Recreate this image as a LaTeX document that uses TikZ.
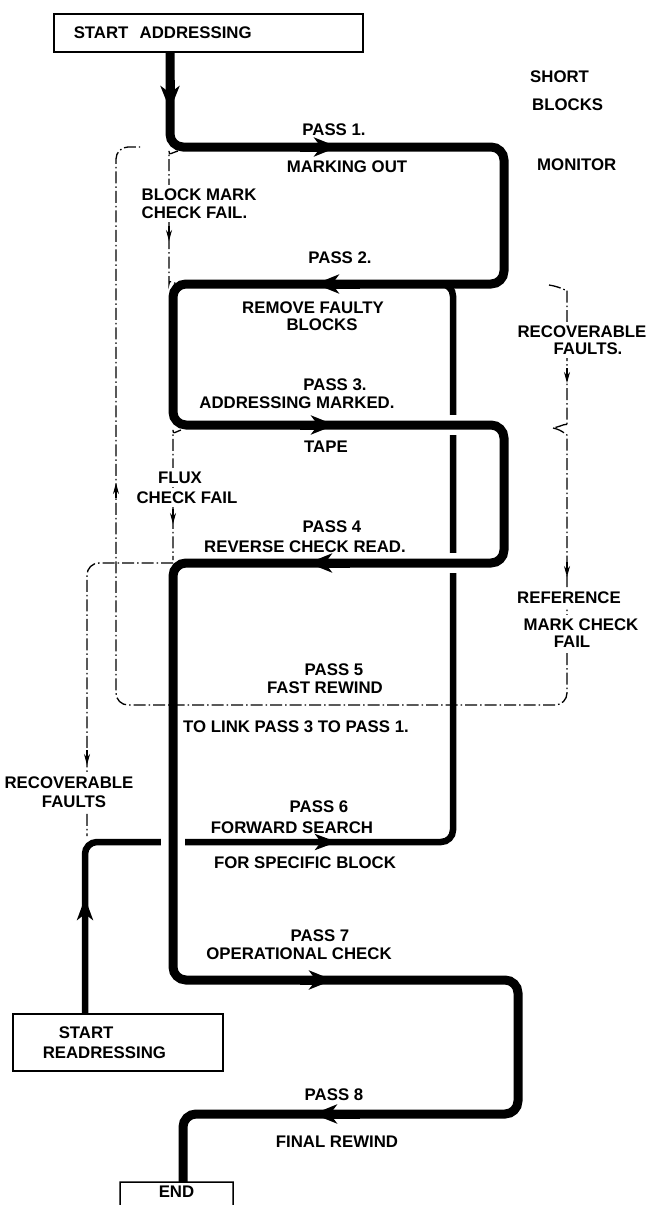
\documentclass[tikz,border=0pt]{standalone}
\usepackage{fontspec}
\setmainfont{Liberation Sans}
\usetikzlibrary{arrows.meta,calc}
\begin{document}
\begin{tikzpicture}[x=1pt,y=-1pt,
  mainline/.style={line width=9pt, rounded corners=13pt},
  subline/.style={line width=6.5pt, rounded corners=12pt},
  dashline/.style={line width=1.3pt, dash pattern=on 12pt off 3pt on 1.5pt off 3pt, rounded corners=12pt},
  bigtip/.style={line width=9pt, -{Stealth[length=24pt,width=19pt,inset=7pt]}},
  subtip/.style={line width=6.5pt, -{Stealth[length=22pt,width=16pt,inset=6pt]}},
  smalltip/.style={line width=1.3pt, -{Stealth[length=11pt,width=6pt]}},
  txt/.style={font=\fontsize{16.8}{18}\selectfont\bfseries},
  box/.style={draw, line width=1.5pt, txt},
  lab/.style={txt, inner sep=0pt, anchor=base},
  labl/.style={lab, anchor=base west},
  mask/.style={fill=white, inner sep=3.5pt}]
\useasboundingbox (0,0) rectangle (648,1205);

% ---------- boxes ----------
\node[box, anchor=north west, minimum width=309pt, minimum height=38pt,
      inner xsep=20pt, inner ysep=0pt, text width=269pt, align=left] (sa) at (53,13) {START\ \ ADDRESSING};
\node[box, anchor=north west, minimum width=210pt, minimum height=57pt,
      inner xsep=30pt, inner ysep=0pt, text width=150pt, align=left,
      font=\fontsize{16.8}{20}\selectfont\bfseries] (sr) at (12,1013) {\hspace*{16pt}START\\READRESSING};
\node[txt, anchor=north, minimum width=113pt, inner xsep=0pt, inner ysep=3pt, text height=12pt, text depth=0pt] (endn) at (176.5,1182) {END};
\coordinate (endbl) at (120,1215);
\coordinate (endbr) at (233,1215);
\draw[line width=1.5pt] (endbl) |- (endn.north east) -- (endbr);

% ---------- coordinates ----------
\coordinate (m1) at (170,147);
\coordinate (m2) at (504,147);
\coordinate (m3) at (504,284);
\coordinate (m4) at (173,284);
\coordinate (m5) at (173,425);
\coordinate (m6) at (504,425);
\coordinate (m7) at (504,563);
\coordinate (m8) at (173,563);
\coordinate (m9) at (173,980);
\coordinate (m10) at (518,980);
\coordinate (m11) at (518,1114);
\coordinate (m12) at (183,1114);
\coordinate (r1) at (85,842);
\coordinate (r2) at (453,842);
\coordinate (r3) at (453,284);
\coordinate (r4) at (415,284);
\coordinate (bt) at (553,428);

% ---------- dash-dot lines ----------
\draw[dashline] (bt) .. controls (563,430) and (567,436) .. (567,447) -- (567,705) -- (116,705) -- (116,147) -- (140,147);
\draw[dashline] (549,285) .. controls (562,287) and (567,292) .. (567,302) -- (567,414) .. controls (567,422) and (563,426) .. (bt);
\draw[dashline] (178,151) .. controls (171,153) and (169,156) .. (169,163) -- (169,272) .. controls (169,279) and (172,283) .. (178,284);
\draw[dashline] (181,430) .. controls (175,432) and (173,435) .. (173,442) -- (173,560);
\draw[dashline] (m8) -- (87,563) -- (87,836);

\draw[smalltip] (169,226) -- (169,241);
\draw[smalltip] (173,509) -- (173,524);
\draw[smalltip] (567,562) -- (567,577);
\draw[smalltip] (116,498) -- (116,483);
\draw[smalltip] (567,368) -- (567,383);
\draw[smalltip] (87,750) -- (87,765);

% ---------- readdressing path ----------
\draw[subline] (sr.north -| r1) -- (r1) -- (r2) -- (r3) -- (r4);
\fill[white] (447,415) rectangle (459,435);
\fill[white] (447,553) rectangle (459,573);
\fill[white] (161,837) rectangle (185,847);
\draw[subtip] (85,940) -- (85,898);
\draw[subtip] (300,842) -- (337,842);

% ---------- main tape path ----------
\draw[mainline] (sa.south -| m1) -- (m1) -- (m2) -- (m3) -- (m4) -- (m5) -- (m6) -- (m7) -- (m8) -- (m9) -- (m10) -- (m11) -- (m12) -- (endn.north -| m12);
\draw[bigtip] (170,80) -- (170,110);
\draw[bigtip] (300,147) -- (338,147);
\draw[bigtip] (360,284) -- (315,284);
\draw[bigtip] (300,425) -- (335,425);
\draw[bigtip] (350,563) -- (308,563);
\draw[bigtip] (300,980) -- (333,980);
\draw[bigtip] (360,1114) -- (313,1114);

% ---------- labels ----------
\node[labl] (short) at (530,82) {SHORT};
\node[labl] (blocks) at (532,110) {BLOCKS};
\node[labl] (monitor) at (537,170) {MONITOR};
\node[lab] (p1) at (334,135) {PASS 1.};
\node[lab] (p1t) at (347,172) {MARKING OUT};
\node[labl, mask] (bm1) at (138,200) {BLOCK MARK};
\node[labl, mask] (bm2) at (138,218) {CHECK FAIL.};
\node[lab] (p2) at (340,263) {PASS 2.};
\node[lab] (p2a) at (313,313) {REMOVE FAULTY};
\node[lab] (p2b) at (322,330) {BLOCKS};
\node[lab] (p3) at (335,390) {PASS 3.};
\node[lab] (p3a) at (297,408) {ADDRESSING MARKED.};
\node[lab] (tape) at (326,452) {TAPE};
\node[lab, mask] (fx1) at (180,483) {FLUX};
\node[lab, mask] (fx2) at (187,503) {CHECK FAIL};
\node[lab] (p4) at (332,532) {PASS 4};
\node[lab] (p4a) at (305,552) {REVERSE CHECK READ.};
\node[lab, mask] (rf1) at (582,337) {RECOVERABLE};
\node[lab, mask] (rf2) at (588,354) {FAULTS.};
\node[lab, mask] (ref1) at (569,603) {REFERENCE};
\node[lab, mask] (ref2) at (581,630) {MARK CHECK};
\node[lab, mask] (ref3) at (572,647) {FAIL};
\node[lab] (p5) at (334,675) {PASS 5};
\node[lab] (p5a) at (325,693) {FAST REWIND};
\node[lab] (link) at (296,732) {TO LINK PASS 3 TO PASS 1.};
\node[lab, mask] (lf1) at (69,788) {RECOVERABLE};
\node[lab, mask] (lf2) at (74,807) {FAULTS};
\node[lab] (p6) at (319,812) {PASS 6};
\node[lab] (p6a) at (292,833) {FORWARD SEARCH};
\node[lab] (p6b) at (305,868) {FOR SPECIFIC BLOCK};
\node[lab] (p7) at (320,941) {PASS 7};
\node[lab] (p7a) at (299,959) {OPERATIONAL CHECK};
\node[lab] (p8) at (334,1100) {PASS 8};
\node[lab] (p8a) at (337,1147) {FINAL REWIND};
\end{tikzpicture}
\end{document}
